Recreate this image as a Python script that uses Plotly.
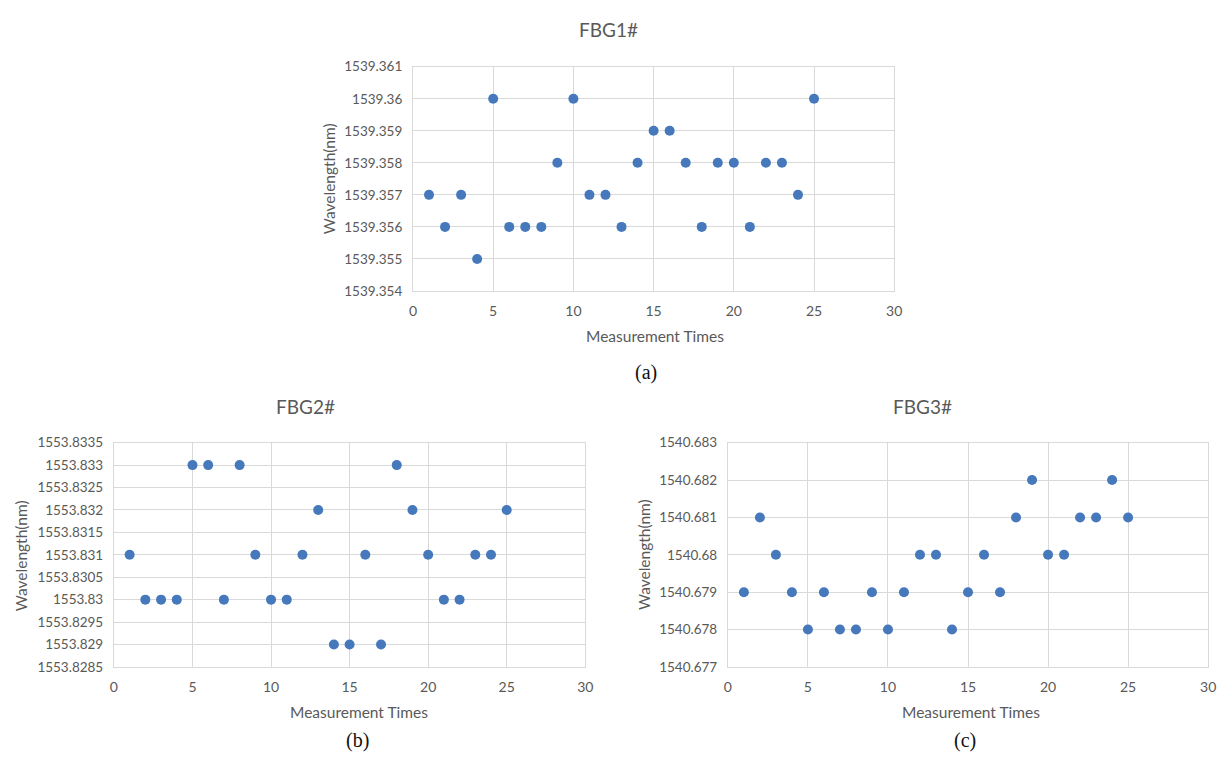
import plotly.graph_objects as go

W, H = 1231, 764

measurement = list(range(1, 26))

fbg1 = [1539.357, 1539.356, 1539.357, 1539.355, 1539.360, 1539.356, 1539.356, 1539.356,
        1539.358, 1539.360, 1539.357, 1539.357, 1539.356, 1539.358, 1539.359, 1539.359,
        1539.358, 1539.356, 1539.358, 1539.358, 1539.356, 1539.358, 1539.358, 1539.357,
        1539.360]
fbg2 = [1553.831, 1553.830, 1553.830, 1553.830, 1553.833, 1553.833, 1553.830, 1553.833,
        1553.831, 1553.830, 1553.830, 1553.831, 1553.832, 1553.829, 1553.829, 1553.831,
        1553.829, 1553.833, 1553.832, 1553.831, 1553.830, 1553.830, 1553.831, 1553.831,
        1553.832]
fbg3 = [1540.679, 1540.681, 1540.680, 1540.679, 1540.678, 1540.679, 1540.678, 1540.678,
        1540.679, 1540.678, 1540.679, 1540.680, 1540.680, 1540.678, 1540.679, 1540.680,
        1540.679, 1540.681, 1540.682, 1540.680, 1540.680, 1540.681, 1540.681, 1540.682,
        1540.681]

x_ticks = [0, 5, 10, 15, 20, 25, 30]
y1_ticks = [1539.354, 1539.355, 1539.356, 1539.357, 1539.358, 1539.359, 1539.360, 1539.361]
y1_labels = ["1539.354", "1539.355", "1539.356", "1539.357", "1539.358", "1539.359", "1539.36", "1539.361"]
y2_ticks = [1553.8285, 1553.829, 1553.8295, 1553.830, 1553.8305, 1553.831, 1553.8315,
            1553.832, 1553.8325, 1553.833, 1553.8335]
y2_labels = ["1553.8285", "1553.829", "1553.8295", "1553.83", "1553.8305", "1553.831",
             "1553.8315", "1553.832", "1553.8325", "1553.833", "1553.8335"]
y3_ticks = [1540.677, 1540.678, 1540.679, 1540.680, 1540.681, 1540.682, 1540.683]
y3_labels = ["1540.677", "1540.678", "1540.679", "1540.68", "1540.681", "1540.682", "1540.683"]

titles = ["FBG1#", "FBG2#", "FBG3#"]
captions = ["(a)", "(b)", "(c)"]
x_title = "Measurement Times"
y_title = "Wavelength(nm)"

MARK = "#4678BC"
GRID = "#D9D9D9"
TXT = "#595959"
FONT = "Lato, Open Sans, sans-serif"

# plot areas in pixels: (left, right, top, bottom)
boxes = [(413, 899, 60, 289), (111, 587, 444, 673), (731, 1216, 444, 673)]

def px(x):
    return x / W

def py(y):
    return 1 - y / H

fig = go.Figure()
series = [fbg1, fbg2, fbg3]
yticks = [(y1_ticks, y1_labels), (y2_ticks, y2_labels), (y3_ticks, y3_labels)]

layout = dict(
    width=W, height=H, margin=dict(l=0, r=0, t=0, b=0),
    paper_bgcolor="white", plot_bgcolor="white", showlegend=False,
    font=dict(family=FONT, color=TXT, size=13),
)

annotations = []
for i, (ys, (tv, tt), box) in enumerate(zip(series, yticks, boxes)):
    n = "" if i == 0 else str(i + 1)
    fig.add_trace(go.Scatter(
        x=measurement, y=ys, mode="markers",
        marker=dict(color=MARK, size=10, line=dict(width=0)),
        xaxis="x" + n, yaxis="y" + n, hoverinfo="x+y",
    ))
    l, r, t, b = box
    layout["xaxis" + n] = dict(
        domain=[px(l), px(r)], anchor="y" + n, range=[0, 30],
        tickvals=x_ticks, ticktext=[str(v) for v in x_ticks],
        showgrid=True, gridcolor=GRID, gridwidth=1,
        showline=True, linecolor=GRID, linewidth=1, mirror=True,
        zeroline=False, ticks="", ticklabelstandoff=7,
        tickfont=dict(family=FONT, color=TXT, size=14),
    )
    layout["yaxis" + n] = dict(
        domain=[py(b), py(t)], anchor="x" + n, range=[tv[0], tv[-1]],
        tickvals=tv, ticktext=tt,
        showgrid=True, gridcolor=GRID, gridwidth=1,
        showline=True, linecolor=GRID, linewidth=1, mirror=True,
        zeroline=False, ticks="", ticklabelstandoff=7,
        tickfont=dict(family=FONT, color=TXT, size=13.5),
    )

title_pos = [(610, 22), (304, 407), (928, 407)]
xt_pos = [(657, 335), (358, 719), (977, 719)]
yt_pos = [(329, 174), (17, 559), (647, 558)]
cap_pos = [(648, 372), (357, 748), (970, 748)]

for i in range(3):
    annotations.append(dict(text=titles[i], x=px(title_pos[i][0]), y=py(title_pos[i][1]),
                            xref="paper", yref="paper", showarrow=False,
                            xanchor="center", yanchor="middle",
                            font=dict(family=FONT, size=19, color=TXT)))
    annotations.append(dict(text=x_title, x=px(xt_pos[i][0]), y=py(xt_pos[i][1]),
                            xref="paper", yref="paper", showarrow=False,
                            xanchor="center", yanchor="middle",
                            font=dict(family=FONT, size=15.5, color=TXT)))
    annotations.append(dict(text=y_title, x=px(yt_pos[i][0]), y=py(yt_pos[i][1]),
                            xref="paper", yref="paper", showarrow=False, textangle=-90,
                            xanchor="center", yanchor="middle",
                            font=dict(family=FONT, size=15.5, color=TXT)))
    annotations.append(dict(text=captions[i], x=px(cap_pos[i][0]), y=py(cap_pos[i][1]),
                            xref="paper", yref="paper", showarrow=False,
                            xanchor="center", yanchor="middle",
                            font=dict(family="Liberation Serif, Times New Roman, serif",
                                      size=20, color="#111111")))

layout["annotations"] = annotations
fig.update_layout(**layout)
fig.write_html("out.html")
